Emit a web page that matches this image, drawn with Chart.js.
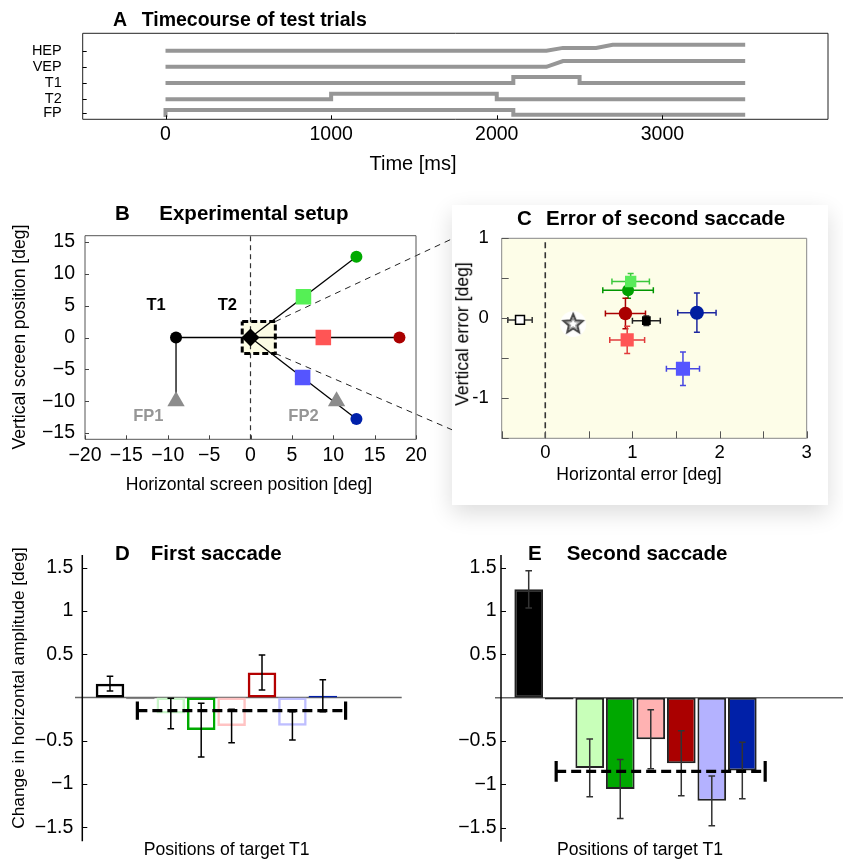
<!DOCTYPE html>
<html>
<head>
<meta charset="utf-8">
<script src="https://cdn.jsdelivr.net/npm/chart.js@4.4.1/dist/chart.umd.min.js"></script>
<style>
  body { margin: 0; background: #fff; width: 843px; height: 860px; position: relative; overflow: hidden;
         font-family: "Liberation Sans", Arial, Helvetica, sans-serif; }
  canvas { position: absolute; }
  .t { position: absolute; white-space: nowrap; color: #000; line-height: 1; }
  #cardC { position: absolute; left: 452px; top: 205px; width: 376px; height: 300px; background: #fff;
           box-shadow: 0 8px 22px rgba(0, 0, 0, 0.14); }
</style>
</head>
<body>
<canvas id="chartA" width="843" height="180" style="left:0;top:0"></canvas>
<canvas id="chartB" width="452" height="310" style="left:0;top:190px"></canvas>
<div id="cardC"></div>
<canvas id="chartC" width="376" height="300" style="left:452px;top:205px"></canvas>
<canvas id="chartD" width="430" height="330" style="left:0;top:530px"></canvas>
<canvas id="chartE" width="413" height="330" style="left:430px;top:530px"></canvas>
<script>
// ---- A: timecourse of test trials ----
const channels = ['HEP', 'VEP', 'T1', 'T2', 'FP'];
const channelTicks = [4, 3, 2, 1, 0.15];
const timeTicks = [0, 1000, 2000, 3000];
const hepTime = [0, 2300, 2400, 2600, 2700, 3500];
const hepLevel = [4, 4, 4.17, 4.17, 4.36, 4.36];
const vepTime = [0, 2300, 2400, 3500];
const vepLevel = [3, 3, 3.36, 3.36];
const t1Time = [0, 2100, 2100, 2500, 2500, 3500];
const t1Level = [2, 2, 2.37, 2.37, 2, 2];
const t2Time = [0, 1000, 1000, 2000, 2000, 3500];
const t2Level = [1, 1, 1.34, 1.34, 1, 1];
const fpTime = [0, 0, 2100, 2100, 3500];
const fpLevel = [-0.1, 0.34, 0.34, 0.05, 0.05];

// ---- B: experimental setup (deg) ----
const t1Pos = [-9, 0];
const t2Pos = [0, 0];
const fixX = [-9, 10.4];
const fixY = [-10, -10];
const farX = [12.8, 18, 12.8];
const farY = [12.7, 0, -12.8];
const nearX = [6.4, 8.8, 6.3];
const nearY = [6.4, 0, -6.3];
const setupTicks = [-20, -15, -10, -5, 0, 5, 10, 15, 20];
const setupYTicks = [-15, -10, -5, 0, 5, 10, 15];
const setupLabels = ['T1', 'T2', 'FP1', 'FP2'];
const setupLabelX = [-11.4, -2.8, -12.35, 6.4];
const setupLabelY = [5.1, 5.1, -12.45, -12.45];
const zoomBoxX = [-1, 3];
const zoomBoxY = [-2.5, 2.5];
const connectorEnd = [24.35, 15.5, -14.5];

// ---- C: error of second saccade (deg) ----
const errNames = ['T2 only', 'mean', 'far up', 'near up', 'far mid', 'centre', 'near mid', 'far down', 'near down'];
const errHor = [-0.29, 0.32, 0.95, 0.98, 0.92, 1.16, 0.94, 1.74, 1.58];
const errVer = [-0.02, -0.06, 0.35, 0.46, 0.06, -0.03, -0.27, 0.07, -0.63];
const errHorSd = [0.14, 0, 0.29, 0.215, 0.23, 0.16, 0.2, 0.22, 0.19];
const errVerSd = [0.02, 0, 0.1, 0.1, 0.19, 0.06, 0.17, 0.245, 0.21];

// ---- D / E: change in horizontal amplitude (deg) ----
const positions = ['black', 'grey', 'light green', 'green', 'light red', 'dark red', 'light blue', 'dark blue'];
const firstSaccade = [0.16, -0.02, -0.185, -0.377, -0.33, 0.288, -0.327, 0.02];
const firstSaccadeErr = [0.085, 0, 0.177, 0.31, 0.194, 0.203, 0.163, 0.186];
const firstMean = -0.152;
const firstMeanErr = 0.105;
const secondSaccade = [1.25, -0.02, -0.81, -1.054, -0.48, -0.756, -1.19, -0.84];
const secondSaccadeErr = [0.215, 0, 0.333, 0.34, 0.34, 0.374, 0.287, 0.327];
const secondMean = -0.85;
const secondMeanErr = 0.12;
const meanSpan = [0.9, 7.75];
const ampTicks = [-1.5, -1, -0.5, 0.5, 1, 1.5];

Chart.defaults.font.family = '"Liberation Sans", Arial, Helvetica, sans-serif';
Chart.defaults.color = '#000';
Chart.defaults.animation = false;

const minus = v => (v < 0 ? '\u2212' : '') + Math.abs(v);
const setTicks = values => scale => { scale.ticks = values.map(v => ({ value: v })); };
const noGrid = { display: false, drawTicks: false };
const noBorder = { display: false };
const pts = (xs, ys) => xs.map((x, i) => ({ x: x, y: ys[i] }));

// frame / axis line, background fill
const framePlugin = {
  id: 'frame',
  beforeDraw(chart, args, opts) {
    if (!opts.fill) return;
    const a = chart.chartArea, ctx = chart.ctx;
    ctx.save();
    ctx.fillStyle = opts.fill;
    ctx.fillRect(a.left, a.top, a.width, a.height);
    ctx.restore();
  },
  afterDraw(chart, args, opts) {
    const a = chart.chartArea, ctx = chart.ctx;
    ctx.save();
    ctx.strokeStyle = opts.color || '#000';
    ctx.lineWidth = opts.width || 1;
    ctx.beginPath();
    if (opts.mode === 'left') {
      ctx.moveTo(a.left, a.top);
      ctx.lineTo(a.left, a.bottom);
    } else {
      ctx.rect(a.left, a.top, a.width, a.height);
    }
    ctx.stroke();
    ctx.restore();
  }
};

// tick marks pointing into the plot
const innerTicks = {
  id: 'innerTicks',
  afterDraw(chart, args, opts) {
    const { ctx, chartArea: a, scales } = chart;
    ctx.save();
    ctx.strokeStyle = opts.color || '#000';
    ctx.lineWidth = 1;
    ctx.beginPath();
    if (opts.x) scales.x.ticks.forEach(t => {
      const px = Math.round(scales.x.getPixelForValue(t.value)) + 0.5;
      ctx.moveTo(px, a.bottom);
      ctx.lineTo(px, a.bottom - opts.x);
    });
    if (opts.y) scales.y.ticks.forEach(t => {
      const py = Math.round(scales.y.getPixelForValue(t.value)) + 0.5;
      ctx.moveTo(a.left, py);
      ctx.lineTo(a.left + opts.y, py);
    });
    ctx.stroke();
    ctx.restore();
  }
};

function drawErrors(chart) {
  const { ctx, scales: { x, y } } = chart;
  ctx.save();
  chart.data.datasets.forEach(ds => {
    if (!ds.errorX && !ds.errorY) return;
    ds.data.forEach((p, i) => {
      const px = x.getPixelForValue(p.x), py = y.getPixelForValue(p.y);
      ctx.strokeStyle = Array.isArray(ds.errorColor) ? ds.errorColor[i] : ds.errorColor;
      ctx.lineWidth = ds.errorWidth || 1.5;
      const cap = ds.errorCap || 3;
      ctx.beginPath();
      if (ds.errorY && ds.errorY[i]) {
        const y0 = y.getPixelForValue(p.y - ds.errorY[i]), y1 = y.getPixelForValue(p.y + ds.errorY[i]);
        ctx.moveTo(px, y0); ctx.lineTo(px, y1);
        ctx.moveTo(px - cap, y0); ctx.lineTo(px + cap, y0);
        ctx.moveTo(px - cap, y1); ctx.lineTo(px + cap, y1);
      }
      if (ds.errorX && ds.errorX[i]) {
        const x0 = x.getPixelForValue(p.x - ds.errorX[i]), x1 = x.getPixelForValue(p.x + ds.errorX[i]);
        ctx.moveTo(x0, py); ctx.lineTo(x1, py);
        ctx.moveTo(x0, py - cap); ctx.lineTo(x0, py + cap);
        ctx.moveTo(x1, py - cap); ctx.lineTo(x1, py + cap);
      }
      ctx.stroke();
    });
  });
  ctx.restore();
}
const errorBars = {
  id: 'errorBars',
  beforeDatasetsDraw(chart, args, opts) { if (opts.under) drawErrors(chart); },
  afterDatasetsDraw(chart, args, opts) { if (!opts.under) drawErrors(chart); }
};

const zeroLine = {
  id: 'zeroLine',
  beforeDatasetsDraw(chart, args, opts) {
    const { ctx, chartArea: a, scales: { y } } = chart;
    const py = y.getPixelForValue(0);
    ctx.save();
    ctx.strokeStyle = '#666';
    ctx.lineWidth = 1.6;
    ctx.beginPath();
    ctx.moveTo(a.left - opts.extend, py);
    ctx.lineTo(a.right, py);
    ctx.stroke();
    ctx.restore();
  }
};

const meanLine = {
  id: 'meanLine',
  afterDatasetsDraw(chart, args, opts) {
    const { ctx, scales: { x, y } } = chart;
    const py = y.getPixelForValue(opts.value);
    const x0 = x.getPixelForValue(opts.from), x1 = x.getPixelForValue(opts.to);
    const c0 = y.getPixelForValue(opts.value + opts.err), c1 = y.getPixelForValue(opts.value - opts.err);
    ctx.save();
    ctx.strokeStyle = '#000';
    ctx.lineWidth = 3.2;
    ctx.setLineDash([10, 5]);
    ctx.beginPath();
    ctx.moveTo(x0, py); ctx.lineTo(x1, py);
    ctx.stroke();
    ctx.setLineDash([]);
    ctx.beginPath();
    ctx.moveTo(x0, c0); ctx.lineTo(x0, c1);
    ctx.moveTo(x1, c0); ctx.lineTo(x1, c1);
    ctx.stroke();
    ctx.restore();
  }
};

const setupText = {
  id: 'setupText',
  afterDatasetsDraw(chart) {
    const { ctx, scales: { x, y } } = chart;
    ctx.save();
    ctx.font = 'bold 16.5px "Liberation Sans", Arial, sans-serif';
    ctx.textAlign = 'center';
    ctx.textBaseline = 'middle';
    setupLabels.forEach((s, i) => {
      ctx.fillStyle = s.startsWith('FP') ? 'rgb(150,150,150)' : '#000';
      ctx.fillText(s, x.getPixelForValue(setupLabelX[i]), y.getPixelForValue(setupLabelY[i]));
    });
    ctx.restore();
  }
};

const baseOpts = (pad) => ({
  responsive: false,
  animation: false,
  layout: { autoPadding: false, padding: pad },
  events: []
});

// ---------- A ----------
const lineA = (xs, ys) => ({
  data: pts(xs, ys), showLine: true, pointRadius: 0, borderColor: 'rgb(150,150,150)',
  borderWidth: 4, borderCapStyle: 'butt', borderJoinStyle: 'miter', tension: 0
});
new Chart(document.getElementById('chartA'), {
  type: 'scatter',
  data: { datasets: [lineA(hepTime, hepLevel), lineA(vepTime, vepLevel), lineA(t1Time, t1Level),
                     lineA(t2Time, t2Level), lineA(fpTime, fpLevel)] },
  options: Object.assign(baseOpts({ top: 33.3, right: 15, left: 0, bottom: 0 }), {
    plugins: { legend: { display: false }, tooltip: { enabled: false },
               frame: { color: '#222', width: 1 }, innerTicks: { x: 4, y: 4 } },
    scales: {
      x: { type: 'linear', min: -500, max: 4000, afterBuildTicks: setTicks(timeTicks),
           ticks: { font: { size: 19.5, lineHeight: 1 }, padding: 5.7, maxRotation: 0, autoSkip: false,
                    callback: v => String(v) },
           grid: noGrid, border: noBorder, afterFit: s => { s.height = 180 - 119.3; } },
      y: { min: -0.235, max: 5.07, afterBuildTicks: setTicks(channelTicks),
           ticks: { font: { size: 14.5, lineHeight: 1 }, padding: 21, autoSkip: false,
                    callback: v => channels[channelTicks.indexOf(v)] },
           grid: noGrid, border: noBorder, afterFit: s => { s.width = 82.7; } }
    }
  }),
  plugins: [framePlugin, innerTicks]
});

// ---------- B ----------
const seg = (a, b, extra) => Object.assign({
  data: [{ x: a[0], y: a[1] }, { x: b[0], y: b[1] }], showLine: true, pointRadius: 0,
  borderColor: '#000', borderWidth: 1.3, order: 2
}, extra || {});
const segmentsB = [
  seg(t1Pos, t2Pos), seg(t1Pos, [fixX[0], fixY[0]]),
  ...farX.map((x, i) => seg(t2Pos, [x, farY[i]]))
];
new Chart(document.getElementById('chartB'), {
  type: 'scatter',
  data: { datasets: [
    { data: pts(fixX, fixY), pointStyle: 'triangle', pointRadius: 10, backgroundColor: 'rgb(140,140,140)', borderWidth: 0, order: 0 },
    { data: [{ x: t1Pos[0], y: t1Pos[1] }], pointStyle: 'circle', pointRadius: 6, backgroundColor: '#000', borderWidth: 0, order: 0 },
    { data: [{ x: t2Pos[0], y: t2Pos[1] }], pointStyle: 'rectRot', pointRadius: 9, backgroundColor: '#000', borderWidth: 0, order: 0 },
    { data: pts(farX, farY), pointStyle: 'circle', pointRadius: 6,
      backgroundColor: ['rgb(0,170,0)', 'rgb(170,0,0)', 'rgb(0,32,170)'], borderWidth: 0, order: 0 },
    { data: pts(nearX, nearY), pointStyle: 'rect', pointRadius: 11,
      backgroundColor: ['rgb(85,240,85)', 'rgb(255,85,85)', 'rgb(85,85,255)'], borderWidth: 0, order: 1 },
    ...segmentsB,
    { data: [{ x: 0, y: -16 }, { x: 0, y: 16 }], showLine: true, pointRadius: 0, borderColor: '#333',
      borderWidth: 1.2, borderDash: [5, 4], order: 3 },
    { data: [{ x: zoomBoxX[1], y: zoomBoxY[1] }, { x: connectorEnd[0], y: connectorEnd[1] }], showLine: true, pointRadius: 0,
      borderColor: '#222', borderWidth: 1, borderDash: [6, 5], clip: false, order: 3 },
    { data: [{ x: zoomBoxX[1], y: zoomBoxY[0] }, { x: connectorEnd[0], y: connectorEnd[2] }], showLine: true, pointRadius: 0,
      borderColor: '#222', borderWidth: 1, borderDash: [6, 5], clip: false, order: 3 },
    { data: [{ x: zoomBoxX[0], y: zoomBoxY[1] }, { x: zoomBoxX[1], y: zoomBoxY[1] }, { x: zoomBoxX[1], y: zoomBoxY[0] },
             { x: zoomBoxX[0], y: zoomBoxY[0] }, { x: zoomBoxX[0], y: zoomBoxY[1] }],
      showLine: true, pointRadius: 0, borderColor: '#000', borderWidth: 3, borderDash: [6, 3],
      fill: 'shape', backgroundColor: 'rgb(252,252,228)', order: 4 }
  ] },
  options: Object.assign(baseOpts({ top: 45.7, right: 36, left: 0, bottom: 0 }), {
    plugins: { legend: { display: false }, tooltip: { enabled: false },
               frame: { color: '#555', width: 1 }, innerTicks: { x: 4, y: 4, color: '#444' } },
    scales: {
      x: { type: 'linear', min: -20, max: 20, afterBuildTicks: setTicks(setupTicks),
           ticks: { font: { size: 19.5, lineHeight: 1 }, padding: 6.2, maxRotation: 0, autoSkip: false, callback: minus },
           grid: noGrid, border: noBorder, afterFit: s => { s.height = 310 - 249.3; } },
      y: { min: -16, max: 16, afterBuildTicks: setTicks(setupYTicks),
           ticks: { font: { size: 19.5, lineHeight: 1 }, padding: 10, autoSkip: false, callback: minus },
           grid: noGrid, border: noBorder, afterFit: s => { s.width = 85; } }
    }
  }),
  plugins: [framePlugin, innerTicks, setupText]
});

// ---------- C ----------
function makeStar(r) {
  const s = Math.ceil(r * 2 + 8);
  const c = document.createElement('canvas');
  c.width = c.height = s;
  const g = c.getContext('2d');
  const cx = s / 2, cy = s / 2 + 1;
  g.fillStyle = 'rgba(255,255,255,0.9)';
  g.beginPath(); g.arc(cx, cy, r + 3, 0, Math.PI * 2); g.fill();
  const star = k => {
    g.beginPath();
    for (let i = 0; i < 10; i++) {
      const rr = (i % 2 ? 0.45 : 1) * r * k;
      const ang = -Math.PI / 2 + i * Math.PI / 5;
      g.lineTo(cx + rr * Math.cos(ang), cy + rr * Math.sin(ang));
    }
    g.closePath();
  };
  star(1); g.fillStyle = '#fff'; g.fill(); g.lineWidth = 2; g.strokeStyle = '#444'; g.stroke();
  star(0.6); g.lineWidth = 1; g.strokeStyle = '#888'; g.stroke();
  return c;
}
const starMark = makeStar(10);
new Chart(document.getElementById('chartC'), {
  type: 'scatter',
  data: { labels: errNames, datasets: [{
    data: pts(errHor, errVer),
    errorX: errHorSd, errorY: errVerSd, errorWidth: 1.5, errorCap: 3,
    errorColor: ['#333', '#333', 'rgb(0,150,0)', 'rgb(60,200,60)', 'rgb(170,0,0)', '#222', 'rgb(225,60,60)', 'rgb(30,40,160)', 'rgb(70,70,225)'],
    pointStyle: ['rect', starMark, 'circle', 'rect', 'circle', 'rect', 'rect', 'circle', 'rect'],
    pointRadius: [6.3, 11, 6, 8, 6.7, 6.2, 9.3, 7, 10],
    backgroundColor: ['#fff', '#fff', 'rgb(0,160,0)', 'rgb(90,235,90)', 'rgb(170,0,0)', '#000', 'rgb(255,85,85)', 'rgb(0,30,160)', 'rgb(85,85,255)'],
    borderColor: ['#000', '#444', 'rgb(0,160,0)', 'rgb(90,235,90)', 'rgb(170,0,0)', '#000', 'rgb(255,85,85)', 'rgb(0,30,160)', 'rgb(85,85,255)'],
    borderWidth: [1.5, 0, 0, 0, 0, 0, 0, 0, 0],
    order: 0
  }, {
    data: [{ x: 0, y: -1.5 }, { x: 0, y: 1 }], showLine: true, pointRadius: 0, borderColor: '#333',
    borderWidth: 1.6, borderDash: [6, 4], order: 1
  }] },
  options: Object.assign(baseOpts({ top: 33.3, right: 21.3, left: 0, bottom: 0 }), {
    plugins: { legend: { display: false }, tooltip: { enabled: false },
               frame: { color: '#888', width: 1, fill: 'rgb(253,253,232)' }, innerTicks: { x: 7, y: 7, color: '#555' },
               errorBars: { under: true } },
    scales: {
      x: { type: 'linear', min: -0.5, max: 3, afterBuildTicks: setTicks([-0.5, 0, 0.5, 1, 1.5, 2, 2.5, 3]),
           ticks: { font: { size: 18.5, lineHeight: 1 }, padding: 5.5, maxRotation: 0, autoSkip: false,
                    callback: v => (Number.isInteger(v) ? String(v) : '') },
           grid: noGrid, border: noBorder, afterFit: s => { s.height = 300 - 233.3; } },
      y: { min: -1.5, max: 1, afterBuildTicks: setTicks([-1.5, -1, -0.5, 0, 0.5, 1]),
           ticks: { font: { size: 18.5, lineHeight: 1 }, padding: 13, autoSkip: false,
                    callback: v => (Number.isInteger(v) ? String(v) : '') },
           grid: noGrid, border: noBorder, afterFit: s => { s.width = 49.7; } }
    }
  }),
  plugins: [framePlugin, innerTicks, errorBars]
});

// ---------- D / E ----------
function ampChart(id, values, errs, mean, meanErr, fill, edge, edgeWidth, errColor, xmin, xmax, yWidth, tickPad, padRight, extend) {
  return new Chart(document.getElementById(id), {
    type: 'bar',
    data: { labels: positions, datasets: [{
      data: values.map((v, i) => ({ x: i, y: v })),
      errorY: errs, errorColor: errColor, errorWidth: 1.5, errorCap: 3.3,
      backgroundColor: fill, borderColor: edge, borderWidth: edgeWidth, borderSkipped: false,
      categoryPercentage: 1, barPercentage: 0.94
    }] },
    options: Object.assign(baseOpts({ top: 25, right: padRight, left: 0, bottom: 330 - 311.7 }), {
      plugins: { legend: { display: false }, tooltip: { enabled: false },
                 frame: { mode: 'left', color: '#000', width: 1.5 }, innerTicks: { y: 5 },
                 zeroLine: { extend: extend },
                 meanLine: { value: mean, err: meanErr, from: meanSpan[0], to: meanSpan[1] } },
      scales: {
        x: { type: 'linear', min: xmin, max: xmax, offset: false, display: false },
        y: { min: -1.661, max: 1.646, afterBuildTicks: setTicks(ampTicks),
             ticks: { font: { size: 19.5, lineHeight: 1 }, padding: tickPad, autoSkip: false, callback: minus },
             grid: noGrid, border: noBorder, afterFit: s => { s.width = yWidth; } }
      }
    }),
    plugins: [zeroLine, framePlugin, innerTicks, errorBars, meanLine]
  });
}
ampChart('chartD', firstSaccade, firstSaccadeErr, firstMean, firstMeanErr, 'rgba(0,0,0,0)',
  ['#000', '#888', 'rgb(200,245,200)', 'rgb(0,170,0)', 'rgb(255,195,195)', 'rgb(180,0,0)', 'rgb(190,190,255)', 'rgb(0,30,170)'],
  2.5, '#000', -0.911, 9.595, 82.3, 9, 430 - 401.7, 7.3);
ampChart('chartE', secondSaccade, secondSaccadeErr, secondMean, secondMeanErr,
  ['#000', '#000', 'rgb(200,255,185)', 'rgb(0,168,0)', 'rgb(255,178,178)', 'rgb(170,0,0)', 'rgb(180,178,255)', 'rgb(0,32,168)'],
  '#222', 2, '#333', -0.908, 10.3, 71, 4.3, 0, 6);

// ---------- text: panel titles and axis titles ----------
function addText(str, x, y, o) {
  const d = document.createElement('div');
  d.className = 't';
  d.textContent = str;
  d.style.left = x + 'px';
  d.style.top = y + 'px';
  d.style.fontSize = o.size + 'px';
  d.style.fontWeight = o.bold ? 'bold' : 'normal';
  if (o.color) d.style.color = o.color;
  if (o.rotate) d.style.transform = 'translate(-50%,-50%) rotate(-90deg)';
  else if (o.left) d.style.transform = 'translate(0,-50%)';
  else d.style.transform = 'translate(-50%,-50%)';
  document.body.appendChild(d);
}
addText('A', 113, 20, { size: 19.5, bold: true, left: true });
addText('Timecourse of test trials', 141.7, 20, { size: 19.5, bold: true, left: true });
addText('B', 115, 212.7, { size: 20.5, bold: true, left: true });
addText('Experimental setup', 159.3, 212.7, { size: 20.5, bold: true, left: true });
addText('C', 517, 218, { size: 20.5, bold: true, left: true });
addText('Error of second saccade', 546, 218, { size: 20.5, bold: true, left: true });
addText('D', 115, 553.3, { size: 20.5, bold: true, left: true });
addText('First saccade', 150.7, 553.3, { size: 20.5, bold: true, left: true });
addText('E', 528, 553.3, { size: 20.5, bold: true, left: true });
addText('Second saccade', 566.7, 553.3, { size: 20.5, bold: true, left: true });

addText('Time [ms]', 413, 163, { size: 20 });
addText('Vertical screen position [deg]', 20, 337, { size: 17.6, rotate: true });
addText('Horizontal screen position [deg]', 249, 485, { size: 17.6 });
addText('Horizontal error [deg]', 639, 475, { size: 17.6 });
addText('Vertical error [deg]', 463.3, 334, { size: 17.6, rotate: true });
addText('Change in horizontal amplitude [deg]', 19.3, 688, { size: 17.3, rotate: true });
addText('Positions of target T1', 226.7, 850, { size: 17.6 });
addText('Positions of target T1', 640, 850, { size: 17.6 });
</script>
</body>
</html>
